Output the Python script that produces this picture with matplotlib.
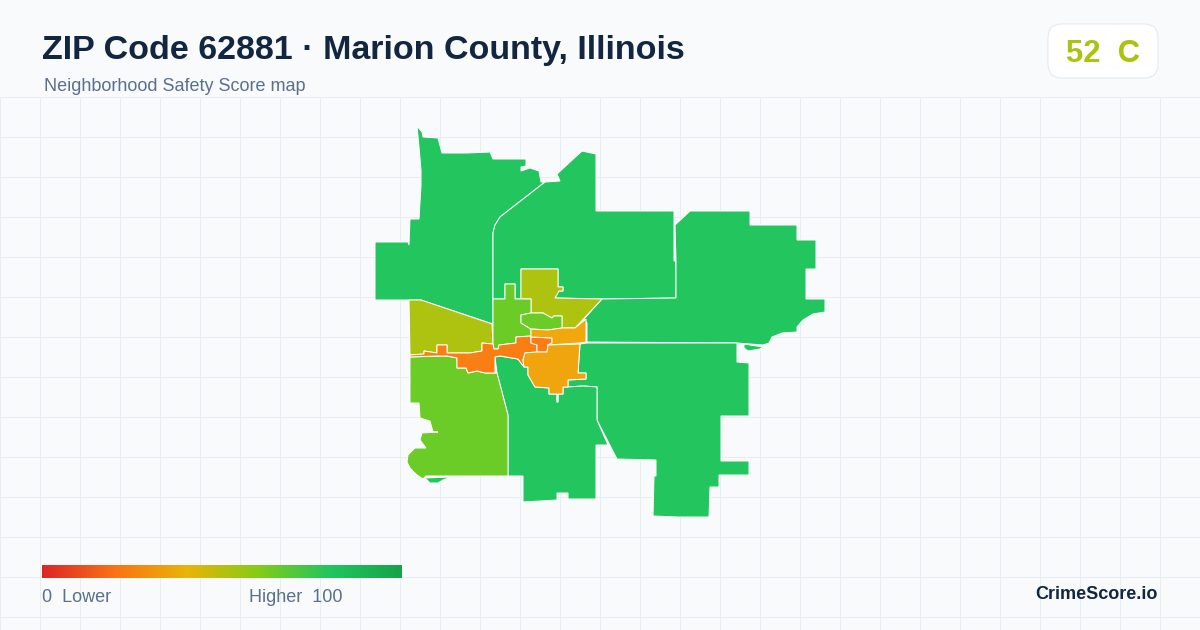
#!/usr/bin/python3
import matplotlib
matplotlib.use('Agg')
import matplotlib.pyplot as plt
from matplotlib.colors import LinearSegmentedColormap
from matplotlib.patches import FancyBboxPatch, Polygon
import numpy as np

plt.rcParams['font.family'] = ['Liberation Sans', 'DejaVu Sans']

title = 'ZIP Code 62881 · Marion County, Illinois'
subtitle = 'Neighborhood Safety Score map'
score_text = '52  C'
brand = 'CrimeScore.io'
legend_low = '0  Lower'
legend_high = 'Higher  100'
legend_colors = ['#dc2626', '#f97316', '#eab308', '#84cc16', '#22c55e', '#16a34a']

# tract outlines in picture pixels
north_west = [(417, 126), (422, 132), (423, 137), (438, 138), (442, 153), (467, 153), (490, 152), (493, 159),
              (526, 159), (526, 166), (521, 167), (521, 171), (530, 168), (539, 171), (541, 182), (545, 182),
              (500, 217), (495, 225), (493, 233), (493, 324), (421, 300), (375, 300), (375, 242), (408, 242),
              (409, 245), (410, 219), (419, 219), (421, 186), (421, 170), (419, 147)]
north = [(545, 182), (560, 181), (557, 174), (582, 151), (596, 154), (596, 211), (674, 211), (674, 261), (676, 261),
         (676, 298), (602, 299), (555, 298), (559, 291), (563, 291), (563, 287), (558, 287), (558, 269), (521, 269),
         (521, 299), (515, 299), (515, 284), (505, 284), (505, 299), (493, 299), (493, 233), (495, 225), (500, 217)]
east = [(602, 299), (676, 298), (676, 261), (675, 225), (690, 211), (750, 211), (750, 225), (797, 225), (797, 240),
        (816, 240), (816, 269), (806, 269), (806, 299), (825, 299), (825, 312), (813, 314), (803, 320), (797, 327),
        (797, 332), (782, 333), (772, 337), (769, 343), (763, 345), (737, 343), (587, 342), (587, 323), (584, 319)]
east_islet = [(744, 344), (763, 347), (760, 349), (748, 351), (744, 348)]
south_east = [(587, 343), (737, 343), (737, 362), (749, 363), (749, 416), (721, 416), (721, 461), (749, 461),
              (749, 475), (719, 475), (719, 487), (710, 487), (709, 517), (678, 517), (653, 516), (654, 476),
              (656, 476), (656, 460), (617, 459), (597, 420), (597, 387), (583, 386), (568, 387), (568, 380),
              (586, 379), (586, 373), (578, 373), (580, 344)]
south = [(495, 357), (500, 356), (518, 359), (524, 367), (528, 367), (528, 375), (535, 387), (549, 388), (549, 394),
         (557, 394), (557, 402), (558, 402), (558, 394), (563, 394), (563, 387), (568, 387), (583, 386), (597, 387),
         (597, 420), (608, 445), (596, 445), (596, 499), (568, 499), (568, 493), (557, 493), (557, 500), (523, 502),
         (523, 476), (508, 476), (508, 415), (497, 373)]
south_west = [(410, 357), (437, 356), (447, 356), (457, 358), (457, 368), (466, 368), (468, 373), (477, 371),
              (485, 373), (495, 373), (497, 373), (508, 415), (508, 476), (426, 476), (423, 479), (417, 475),
              (410, 468), (407, 462), (408, 455), (415, 448), (426, 448), (420, 440), (422, 433), (438, 432),
              (433, 432), (430, 421), (420, 418), (419, 403), (410, 403)]
south_west_islet = [(425, 478), (451, 477), (443, 480), (438, 483), (430, 483)]
west_yellow = [(409, 300), (421, 300), (492, 324), (493, 344), (482, 343), (482, 351), (470, 353), (447, 353),
               (447, 345), (437, 345), (437, 353), (424, 351), (424, 354), (410, 355)]
north_yellow = [(521, 269), (558, 269), (558, 287), (563, 287), (563, 291), (559, 291), (555, 298), (602, 299),
                (575, 328), (562, 328), (562, 316), (554, 316), (552, 318), (543, 313), (531, 313), (531, 299),
                (521, 299)]
north_lime = [(493, 299), (505, 299), (505, 284), (515, 284), (515, 299), (531, 299), (531, 313), (521, 315),
              (521, 323), (531, 329), (531, 336), (516, 337), (516, 343), (499, 345), (498, 349), (494, 349),
              (493, 344)]
center_lime = [(521, 315), (531, 313), (543, 313), (552, 318), (554, 316), (562, 316), (562, 328), (548, 330),
               (531, 329), (521, 323)]
strip_orange = [(410, 355), (424, 354), (424, 351), (437, 353), (437, 345), (447, 345), (447, 353), (470, 353),
                (482, 351), (482, 343), (493, 344), (494, 349), (498, 349), (499, 345), (516, 343), (516, 337),
                (531, 336), (531, 343), (537, 345), (537, 352), (525, 353), (523, 360), (524, 367), (518, 359),
                (500, 356), (495, 357), (495, 373), (485, 373), (477, 371), (468, 373), (466, 368), (457, 368),
                (457, 358), (447, 356), (437, 356), (410, 357)]
core_orange = [(531, 337), (552, 338), (552, 343), (548, 345), (547, 352), (537, 352), (537, 345), (531, 343)]
north_amber = [(531, 329), (548, 330), (562, 328), (575, 328), (586, 319), (586, 342), (580, 343), (548, 345),
               (552, 343), (552, 338), (531, 337)]
south_amber = [(525, 353), (537, 352), (547, 352), (548, 345), (580, 344), (578, 373), (586, 373), (586, 379),
               (568, 380), (568, 387), (563, 387), (563, 394), (558, 394), (558, 402), (557, 402), (557, 394),
               (549, 394), (549, 388), (535, 387), (528, 375), (528, 367), (524, 367), (523, 360)]

# the green tracts first, so their shared outer edge stays under the inner ones
outer_tracts = [north_west, north, east, east_islet, south_east, south, south_west, south_west_islet, west_yellow]
outer_colors = ['#22c55e', '#22c55e', '#22c55e', '#22c55e', '#22c55e', '#22c55e', '#6bcb27', '#22c55e', '#aec30f']
inner_tracts = [north_yellow, north_lime, center_lime, strip_orange, core_orange, north_amber, south_amber]
inner_colors = ['#aec30f', '#6bcb27', '#6bcb27', '#f97f14', '#fa7c16', '#f0a80d', '#f0a40e']

fig = plt.figure(figsize=(12, 6.3), dpi=100, facecolor='#f8fafc')
ax = fig.add_axes([0, 0, 1, 1])
ax.set_facecolor('#f8fafc')

# background grid, 1 px wide
for x in np.arange(0, 1200, 40):
    ax.plot([x, x], [97, 630], color='#e6eef2', lw=0.72, zorder=1)
for y in np.arange(97, 630, 40):
    ax.plot([0, 1200], [y, y], color='#e6eef2', lw=0.72, zorder=1)

for pts, c in zip(outer_tracts, outer_colors):
    ax.add_patch(Polygon(pts, closed=True, facecolor=c, edgecolor='white', lw=0.72, zorder=3))
for pts, c in zip(inner_tracts, inner_colors):
    ax.add_patch(Polygon(pts, closed=True, facecolor=c, edgecolor='white', lw=0.72, zorder=3))

ax.text(42, 59, title, fontsize=24.5, fontweight='bold', color='#12263f', ha='left', va='baseline', zorder=5)
ax.text(44, 91, subtitle, fontsize=12.95, color='#5a6f8c', ha='left', va='baseline', zorder=5)

card = FancyBboxPatch((1062, 38), 82, 26, boxstyle='round,pad=14,rounding_size=14', lw=0.72,
                      facecolor='white', edgecolor='#e2e8f0', zorder=4)
ax.add_patch(card)
ax.text(1066, 62, score_text, fontsize=22.3, fontweight='bold', color='#a9c30f', ha='left', va='baseline', zorder=5)

cmap = LinearSegmentedColormap.from_list('score', legend_colors)
ax.imshow(np.linspace(0, 1, 360).reshape(1, -1), cmap=cmap, extent=(42, 402, 578, 565), aspect='auto', zorder=4)
ax.text(42, 602, legend_low, fontsize=13, color='#5a6f8c', ha='left', va='baseline', zorder=5)
ax.text(342.5, 602, legend_high, fontsize=13, color='#5a6f8c', ha='right', va='baseline', zorder=5)
ax.text(1158, 599, brand, fontsize=13, fontweight='bold', color='#12263f', ha='right', va='baseline', zorder=5)

ax.set_xlim(0, 1200)
ax.set_ylim(630, 0)
ax.axis('off')

plt.savefig('out.png', dpi=100, facecolor=fig.get_facecolor())
